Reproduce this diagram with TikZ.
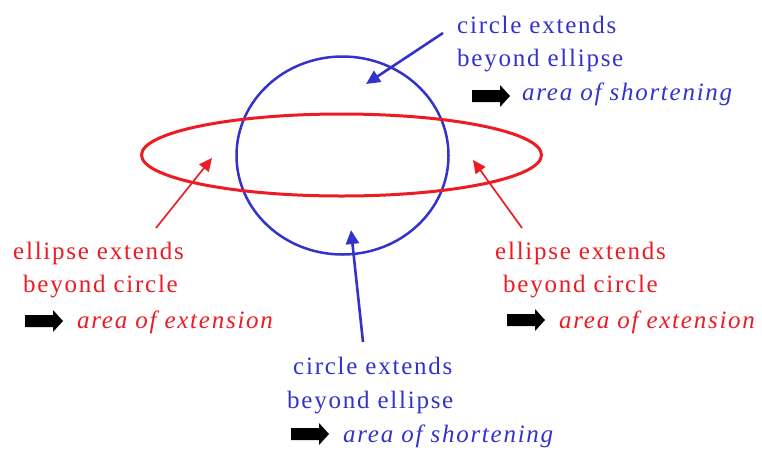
\documentclass[tikz,border=0pt]{standalone}
\usepackage{fontspec}
\setmainfont{Liberation Serif}
\newfontfamily\lbl[LetterSpace=7]{Liberation Serif}
\usetikzlibrary{arrows.meta}
\definecolor{cblue}{RGB}{51,51,204}
\definecolor{cred}{RGB}{237,28,36}
\begin{document}
\begin{tikzpicture}[x=1pt,y=-1pt,
  lab/.style={anchor=base west, inner sep=0pt, font=\lbl\fontsize{25}{25}\selectfont},
  bluelab/.style={lab, text=cblue},
  redlab/.style={lab, text=cred},
  itlab/.style={font=\lbl\fontsize{25}{25}\selectfont\itshape},
  bluearrow/.style={draw=cblue, line width=2.6pt, -{Triangle[length=14pt,width=13pt]}, fill=cblue},
  redarrow/.style={draw=cred, line width=1.7pt, -{Triangle[length=13pt,width=12pt]}, fill=cred},
  blockarr/.pic={\fill[black] (0,-6) -- (28,-6) -- (28,-11) -- (38,0) -- (28,11) -- (28,6) -- (0,6) -- cycle;}
]
\useasboundingbox[fill=white] (0,0) rectangle (762,451);

% shapes
\draw[cblue, line width=2.5pt] (342.5,155.5) ellipse [x radius=106, y radius=99];
\draw[cred, line width=3pt] (341.5,155) ellipse [x radius=200, y radius=41];

% top-right label
\node[bluelab] (tr1) at (457,33) {circle extends};
\node[bluelab] (tr2) at (457,66) {beyond ellipse};
\pic at (472,96) {blockarr};
\node[bluelab, itlab] (tr3) at (522,100) {area of shortening};

% left label
\node[redlab] (l1) at (13,259) {ellipse extends};
\node[redlab] (l2) at (23,292) {beyond circle};
\pic at (25,321) {blockarr};
\node[redlab, itlab] (l3) at (77,328) {area of extension};

% right label
\node[redlab] (r1) at (495,259) {ellipse extends};
\node[redlab] (r2) at (503,292) {beyond circle};
\pic at (507,320) {blockarr};
\node[redlab, itlab] (r3) at (559,328) {area of extension};

% bottom label
\node[bluelab] (b1) at (293,374) {circle extends};
\node[bluelab] (b2) at (287,408) {beyond ellipse};
\pic at (291,434) {blockarr};
\node[bluelab, itlab] (b3) at (343,442) {area of shortening};

% connectors
\coordinate (s1) at (443,33);
\coordinate (t1) at (366,84);
\coordinate (s2) at (363,342);
\coordinate (t2) at (351,230);
\coordinate (s3) at (156,228);
\coordinate (t3) at (212,158);
\coordinate (s4) at (522,228);
\coordinate (t4) at (473,160);
\draw[bluearrow] (s1) -- (t1);
\draw[bluearrow] (s2) -- (t2);
\draw[redarrow] (s3) -- (t3);
\draw[redarrow] (s4) -- (t4);
\end{tikzpicture}
\end{document}
